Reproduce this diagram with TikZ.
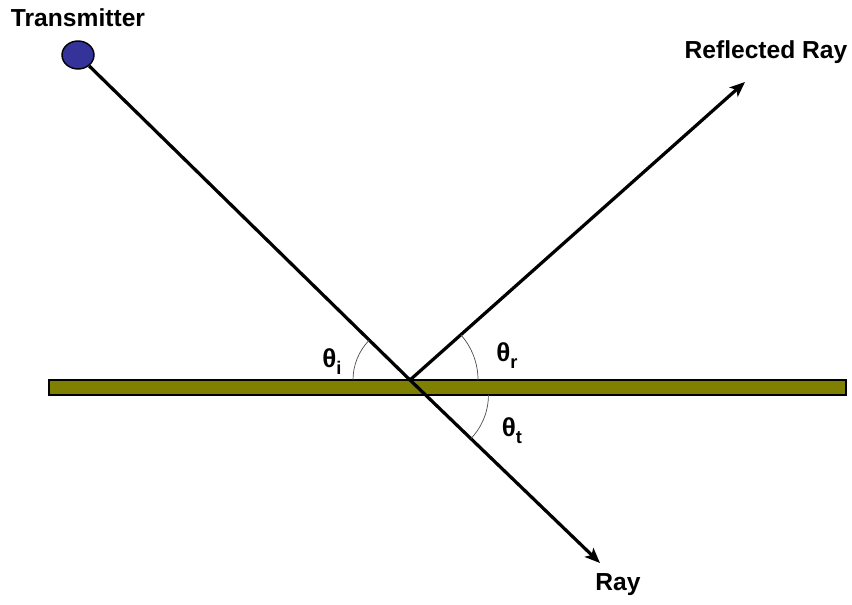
\documentclass[tikz,border=0pt]{standalone}
\usepackage{fontspec}
\setmainfont{Liberation Sans}
\usepackage{tikz}
\usetikzlibrary{arrows.meta,positioning,angles,shapes.geometric}
\definecolor{surfacec}{HTML}{808000}
\definecolor{txc}{HTML}{333399}
\newcommand{\thlabel}[1]{θ\raisebox{-0.5ex}{\fontsize{13}{13}\selectfont #1}}
\tikzset{
  txnode/.style={ellipse, draw=black, line width=1pt, fill=txc,
    minimum width=0.8cm, minimum height=0.7cm, inner sep=0pt},
  surfacenode/.style={rectangle, draw=black, line width=1pt, fill=surfacec,
    minimum width=19.925cm, minimum height=0.375cm, inner sep=0pt},
  textlabel/.style={font=\fontsize{17.5}{19}\selectfont\bfseries},
  anglelabel/.style={font=\fontsize{18.5}{20}\selectfont\bfseries},
  rayedge/.style={-{Stealth[length=3.8mm, width=3.1mm, inset=0.9mm]},
    draw=black, line width=2.3pt},
  anglearc/.style={draw=black!70, line width=0.5pt},
}
\begin{document}
\begin{tikzpicture}[x=0.025cm, y=0.025cm]
  \useasboundingbox (0,0) rectangle (852,604);
  \node[surfacenode] (ground) at (447.5,216.5) {};
  \coordinate (hit) at (410,224);
  \coordinate (cross) at (425.4,209);
  \coordinate (west) at (49,224);
  \coordinate (east) at (846,224);
  \coordinate (eastlow) at (846,209);
  \coordinate (ttip) at (600,41);
  \coordinate (rtip) at (745,522);
  \node[txnode] (tx) at (78,549) {};
  \node[textlabel] (txlabel) at (78,586) {Transmitter};
  \node[textlabel] (rlabel) at (766,552) {Reflected Ray};
  \node[textlabel] (tlabel) at (618,19) {Ray};
  \draw[rayedge] (tx) -- (hit) -- (ttip);
  \draw[rayedge] (hit) -- (rtip);
  \pic[anglearc, angle radius=1.425cm] {angle=tx--hit--west};
  \pic[anglearc, angle radius=1.7cm] {angle=east--hit--rtip};
  \pic[anglearc, angle radius=1.575cm] {angle=ttip--cross--eastlow};
  \node[anglelabel] (thi) at (332,242) {\thlabel{i}};
  \node[anglelabel] (thr) at (507,248) {\thlabel{r}};
  \node[anglelabel] (tht) at (512,173) {\thlabel{t}};
\end{tikzpicture}
\end{document}
